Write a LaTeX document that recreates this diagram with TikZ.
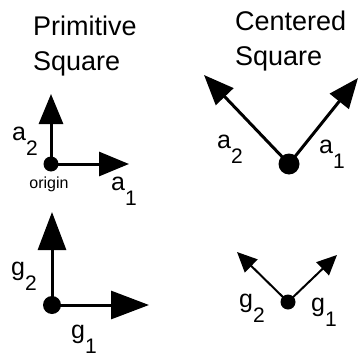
\documentclass[tikz,border=0pt]{standalone}
\usepackage{fontspec}
\setmainfont{Liberation Sans}
\usetikzlibrary{arrows.meta}

\newcommand{\veclab}[2]{#1\raisebox{-15pt}{\fontsize{21}{21}\selectfont #2}}

\begin{document}
\begin{tikzpicture}[x=1pt,y=-1pt,
  title/.style={anchor=base west,align=left,inner sep=0pt,font=\fontsize{27}{35}\selectfont},
  lab/.style={anchor=base west,inner sep=0pt,font=\fontsize{25}{25}\selectfont},
  dot/.style={circle,fill=black,inner sep=0pt,minimum size=#1},
  vec/.style={line width=3pt,-{Triangle[length=30pt,width=24pt]}},
  bigvec/.style={line width=3pt,-{Triangle[length=38pt,width=28pt]}},
  smallvec/.style={line width=2pt,-{Triangle[length=20pt,width=18pt]}}]
  \useasboundingbox (0,0) rectangle (359,356);
  % titles
  \node[title] (tprim) at (33,70) {Primitive\\Square};
  \node[title] (tcent) at (235,65) {Centered\\Square};
  % primitive lattice vectors
  \node[dot=15pt] (o1) at (51,164) {};
  \coordinate (a2p) at (51,94);
  \coordinate (a1p) at (129,164);
  \draw[vec] (o1.center) -- (a2p);
  \draw[vec] (o1.center) -- (a1p);
  \node[lab] (la2p) at (12,140) {\veclab{a}{2}};
  \node[lab] (la1p) at (111,190) {\veclab{a}{1}};
  \node[anchor=base,inner sep=0pt,font=\fontsize{16}{16}\selectfont] (lorig) at (49,188) {origin};
  % centered lattice vectors
  \node[dot=21pt] (o2) at (289,164) {};
  \coordinate (a2c) at (204,75);
  \coordinate (a1c) at (358,78);
  \draw[vec] (o2.center) -- (a2c);
  \draw[vec] (o2.center) -- (a1c);
  \node[lab] (la2c) at (217,148) {\veclab{a}{2}};
  \node[lab] (la1c) at (319,153) {\veclab{a}{1}};
  % primitive reciprocal vectors
  \node[dot=18pt] (o3) at (52,305) {};
  \coordinate (g2p) at (52,212);
  \coordinate (g1p) at (149,305);
  \draw[bigvec] (o3.center) -- (g2p);
  \draw[bigvec] (o3.center) -- (g1p);
  \node[lab] (lg2p) at (11,275) {\veclab{g}{2}};
  \node[lab] (lg1p) at (71,338) {\veclab{g}{1}};
  % centered reciprocal vectors
  \node[dot=15pt] (o4) at (288,302) {};
  \coordinate (g2c) at (237,252);
  \coordinate (g1c) at (337,255);
  \draw[smallvec] (o4.center) -- (g2c);
  \draw[smallvec] (o4.center) -- (g1c);
  \node[lab] (lg2c) at (239,307) {\veclab{g}{2}};
  \node[lab] (lg1c) at (311,311) {\veclab{g}{1}};
\end{tikzpicture}
\end{document}
